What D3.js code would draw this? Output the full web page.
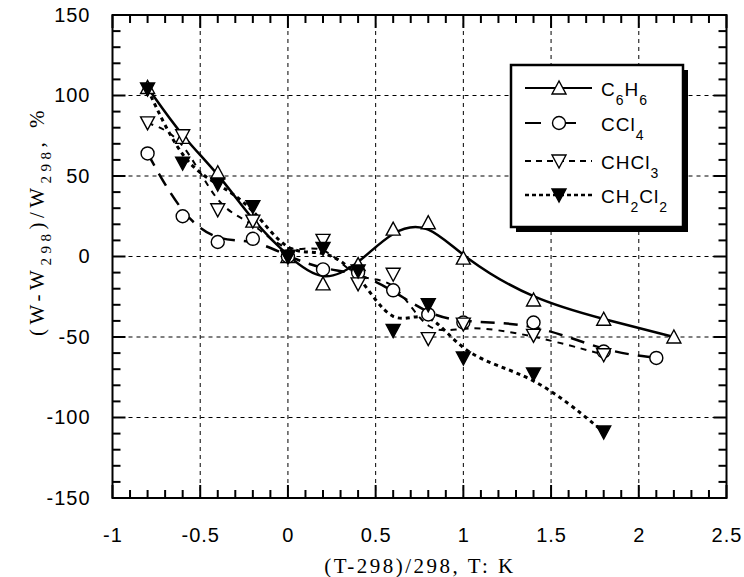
<!DOCTYPE html>
<html>
<head>
<meta charset="utf-8">
<script src="https://cdn.jsdelivr.net/npm/d3@7"></script>
<style>
  body { margin: 0; background: #fff; }
  .tick text { font-family: "Liberation Sans", Arial, sans-serif; font-size: 20px; letter-spacing: 1px; fill: #000; }
  .legend-text { font-family: "Liberation Sans", Arial, sans-serif; font-size: 19px; letter-spacing: 1px; }
  .axis-title { font-family: "Liberation Serif", "Times New Roman", serif; font-size: 21px; }
</style>
</head>
<body>
<svg id="chart" width="744" height="577"></svg>
<script>
// data
const xC6H6 = [-0.8, -0.6, -0.4, -0.2, 0, 0.2, 0.4, 0.6, 0.8, 1.0, 1.4, 1.8, 2.2];
const yC6H6 = [105, 74, 52, 22, 0, -17, -5, 17, 21, -1, -27, -39, -50];
const xCCl4 = [-0.8, -0.6, -0.4, -0.2, 0, 0.2, 0.4, 0.6, 0.8, 1.0, 1.4, 1.8, 2.1];
const yCCl4 = [64, 25, 9, 11, 0, -8, -10, -21, -36, -41, -41, -59, -63];
const xCHCl3 = [-0.8, -0.6, -0.4, -0.2, 0, 0.2, 0.4, 0.6, 0.8, 1.0, 1.4, 1.8];
const yCHCl3 = [83, 75, 29, 22, 0, 10, -17, -11, -51, -42, -49, -61];
const xCH2Cl2 = [-0.8, -0.6, -0.4, -0.2, 0, 0.2, 0.4, 0.6, 0.8, 1.0, 1.4, 1.8];
const yCH2Cl2 = [104, 58, 45, 31, 0, 5, -9, -46, -30, -63, -73, -109];

const xMajor = [-1, -0.5, 0, 0.5, 1, 1.5, 2, 2.5];
const yMajor = [-150, -100, -50, 0, 50, 100, 150];

const svg = d3.select("#chart");
const plotLeft = 112.5, plotRight = 726.5, plotTop = 15, plotBottom = 498;

const xScale = d3.scaleLinear().domain([-1, 2.5]).range([plotLeft, plotRight]);
const yScale = d3.scaleLinear().domain([-150, 150]).range([plotBottom, plotTop]);

const xMinor = d3.range(-10, 26).map(d => d / 10).filter(d => !xMajor.includes(d));
const yMinor = d3.range(-15, 16).map(d => d * 10).filter(d => !yMajor.includes(d));

// grid
const grid = svg.append("g").attr("stroke", "#000").attr("stroke-width", 1).attr("stroke-dasharray", "4,4");
xMajor.slice(1, -1).forEach(v => {
  grid.append("line").attr("x1", xScale(v)).attr("x2", xScale(v)).attr("y1", plotTop).attr("y2", plotBottom);
});
yMajor.slice(1, -1).forEach(v => {
  grid.append("line").attr("x1", plotLeft).attr("x2", plotRight).attr("y1", yScale(v)).attr("y2", yScale(v));
});

// tick labels from d3 axes
const fmt = d => String(d);
svg.append("g").attr("transform", `translate(0,${plotBottom})`)
  .call(d3.axisBottom(xScale).tickValues(xMajor).tickSize(0).tickPadding(30).tickFormat(fmt));
svg.append("g").attr("transform", `translate(${plotLeft},0)`)
  .call(d3.axisLeft(yScale).tickValues(yMajor).tickSize(0).tickPadding(22).tickFormat(fmt));
svg.selectAll(".domain").remove();

// inward tick marks on all four sides
const tickMarks = svg.append("g").attr("stroke", "#000").attr("stroke-width", 2);
const xTicks = xMajor.map(v => [v, 13]).concat(xMinor.map(v => [v, 8]));
const yTicks = yMajor.map(v => [v, 13]).concat(yMinor.map(v => [v, 8]));
xTicks.forEach(([v, len]) => {
  const px = xScale(v);
  tickMarks.append("line").attr("x1", px).attr("x2", px).attr("y1", plotBottom).attr("y2", plotBottom - len);
  tickMarks.append("line").attr("x1", px).attr("x2", px).attr("y1", plotTop).attr("y2", plotTop + len);
});
yTicks.forEach(([v, len]) => {
  const py = yScale(v);
  tickMarks.append("line").attr("x1", plotLeft).attr("x2", plotLeft + len).attr("y1", py).attr("y2", py);
  tickMarks.append("line").attr("x1", plotRight).attr("x2", plotRight - len).attr("y1", py).attr("y2", py);
});

svg.append("rect").attr("x", plotLeft).attr("y", plotTop)
  .attr("width", plotRight - plotLeft).attr("height", plotBottom - plotTop)
  .attr("fill", "none").attr("stroke", "#000").attr("stroke-width", 2);

// series
const series = [
  {name: [["C",0],["6",1],["H",0],["6",1]], xs: xC6H6, ys: yC6H6, dash: null, width: 2.5, marker: "up", fill: "#fff"},
  {name: [["CCl",0],["4",1]], xs: xCCl4, ys: yCCl4, dash: "14,9", width: 2.5, marker: "circle", fill: "#fff"},
  {name: [["CHCl",0],["3",1]], xs: xCHCl3, ys: yCHCl3, dash: "6,6", width: 2, marker: "down", fill: "#fff"},
  {name: [["CH",0],["2",1],["Cl",0],["2",1]], xs: xCH2Cl2, ys: yCH2Cl2, dash: "4,4", width: 3, marker: "down", fill: "#000"}
];

const lineGen = d3.line().x(d => xScale(d[0])).y(d => yScale(d[1])).curve(d3.curveBasis);
const lines = svg.append("g");
series.forEach(s => {
  const pts = s.xs.map((x, i) => [x, s.ys[i]]);
  lines.append("path").attr("d", lineGen(pts)).attr("fill", "none")
    .attr("stroke", "#000").attr("stroke-width", s.width)
    .attr("stroke-dasharray", s.dash);
});

function drawMarker(g, type, cx, cy, fill) {
  if (type === "circle") {
    g.append("circle").attr("cx", cx).attr("cy", cy).attr("r", 6.5)
      .attr("fill", fill).attr("stroke", "#000").attr("stroke-width", 1.4);
  } else {
    const h = 12, w = 14;
    const pts = type === "up"
      ? [[cx, cy - h / 2 - 1], [cx - w / 2, cy + h / 2], [cx + w / 2, cy + h / 2]]
      : [[cx, cy + h / 2 + 1], [cx - w / 2, cy - h / 2], [cx + w / 2, cy - h / 2]];
    g.append("polygon").attr("points", pts.map(p => p.join(",")).join(" "))
      .attr("fill", fill).attr("stroke", "#000").attr("stroke-width", 1.4);
  }
}

const marks = svg.append("g");
series.forEach(s => {
  s.xs.forEach((x, i) => drawMarker(marks, s.marker, xScale(x), yScale(s.ys[i]), s.fill));
});

// legend
const lg = svg.append("g");
lg.append("rect").attr("x", 516).attr("y", 70).attr("width", 172).attr("height", 162).attr("fill", "#000");
lg.append("rect").attr("x", 511).attr("y", 65).attr("width", 172).attr("height", 162)
  .attr("fill", "#fff").attr("stroke", "#000").attr("stroke-width", 2.5);

const legendRows = [88, 123, 161, 195];
series.forEach((s, i) => {
  const ly = legendRows[i];
  lg.append("line").attr("x1", 525).attr("x2", 592).attr("y1", ly).attr("y2", ly)
    .attr("stroke", "#000").attr("stroke-width", s.width === 3 ? 2.5 : 2)
    .attr("stroke-dasharray", i === 1 ? "16,18,17" : (i === 2 ? "6,5" : (i === 3 ? "4,3" : null)));
  drawMarker(lg, s.marker, 559, ly, s.fill);
  const t = lg.append("text").attr("class", "legend-text").attr("x", 601).attr("y", ly + 8);
  let shifted = false;
  s.name.forEach(([txt, sub]) => {
    const sp = t.append("tspan").text(txt);
    if (sub && !shifted) { sp.attr("dy", 9); shifted = true; }
    else if (!sub && shifted) { sp.attr("dy", -9); shifted = false; }
    if (sub) sp.attr("font-size", 14);
  });
});

// axis titles
svg.append("text").attr("class", "axis-title").attr("x", 420).attr("y", 573)
  .attr("text-anchor", "middle").attr("letter-spacing", 2.5).text("(T-298)/298, T: K");

const yt = svg.append("text").attr("class", "axis-title")
  .attr("transform", "translate(44,221) rotate(-90)").attr("text-anchor", "middle").attr("letter-spacing", 4.5);
yt.append("tspan").text("(W-W");
yt.append("tspan").text("298").attr("font-size", 15).attr("dy", 7);
yt.append("tspan").text(")/W").attr("dy", -7);
yt.append("tspan").text("298").attr("font-size", 15).attr("dy", 7);
yt.append("tspan").text(", %").attr("dy", -7);
</script>
</body>
</html>
